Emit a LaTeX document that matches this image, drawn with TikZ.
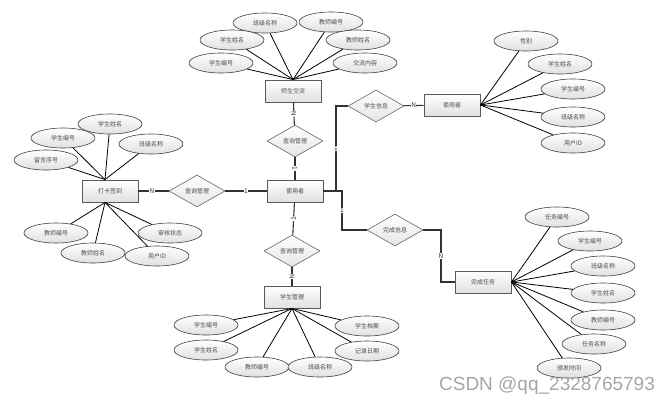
\documentclass[tikz,border=0pt]{standalone}
\usepackage{fontspec}
\setmainfont{Noto Sans CJK SC}
\newfontfamily\wmfont{Liberation Sans}
\usetikzlibrary{shapes.geometric}

\begin{document}
\begin{tikzpicture}[x=1pt, y=-1pt, font=\fontsize{6}{7}\selectfont, line width=0.8pt,
  ent/.style = {draw=black!65, line width=0.9pt, rectangle, minimum width=56pt, minimum height=22pt, top color=white, bottom color=black!12, text=black!70},
  rel/.style = {draw=black!60, line width=0.6pt, diamond, minimum width=56pt, minimum height=32pt, inner sep=0pt, top color=white, bottom color=black!10, text=black!70},
  attr/.style = {draw=black!75, line width=0.6pt, ellipse, minimum width=64pt, minimum height=20pt, inner sep=0pt, top color=white, bottom color=black!12, text=black!70},
  lab/.style = {fill=white, inner sep=0.5pt, text=black!80, font=\fontsize{6.5}{7}\selectfont},
  link/.style = {draw=black!80, line width=1.1pt}]
\useasboundingbox (0,0) rectangle (668,405);

% entities
\node[ent] (1) at (293,91) {师生交流};
\node[ent] (2) at (295,191) {使用者};
\node[ent] (3) at (110,191) {打卡签到};
\node[ent] (4) at (292,297) {学生管理};
\node[ent] (5) at (452,105) {使用者};
\node[ent] (6) at (483,282) {完成任务};

% relations
\node[rel] (7) at (295,141) {查询管理};
\node[rel] (8) at (197,191) {查询管理};
\node[rel] (9) at (292,251) {查询管理};
\node[rel] (10) at (376,106) {学生信息};
\node[rel] (11) at (395,230) {完成信息};

\coordinate (j1) at (336,191);
\coordinate (j2) at (342,191);
\coordinate (j3) at (441,282);

\draw[link] (1) -- node[lab, sloped] {N} (7);
\draw[link] (7) -- node[lab, sloped] {1} (2);
\draw[link] (3) -- node[lab, pos=.45] {N} (8);
\draw[link] (8) -- node[lab] {1} (2);
\draw[link] (2) -- node[lab, sloped] {1} (9);
\draw[link] (9) -- node[lab, sloped] {N} (4);
\draw[link] (2.east) -- (j1) |- node[lab, pos=.25] {1} (10.west);
\draw[link] (10) -- node[lab] {N} (5);
\draw[link] (2.east) -- (j2) |- node[lab, pos=.25] {1} (11.west);
\draw[link] (11.east) -| node[lab, pos=.75] {N} (j3) -- (6.west);

% attributes of 师生交流
\node[attr] (12) at (265,23) {班级名称};
\node[attr] (13) at (331,22) {教师编号};
\node[attr] (14) at (232,40) {学生姓名};
\node[attr] (15) at (358,40) {教师姓名};
\node[attr] (16) at (221,63) {学生编号};
\node[attr] (17) at (365,63) {交流内容};
\draw (12) -- (1.north);
\draw (13) -- (1.north);
\draw (14) -- (1.north);
\draw (15) -- (1.north);
\draw (16) -- (1.north);
\draw (17) -- (1.north);

% attributes of 使用者 (right)
\node[attr] (18) at (526,41) {性别};
\node[attr] (19) at (560,64) {学生姓名};
\node[attr] (20) at (573,89) {学生编号};
\node[attr] (21) at (573,117) {班级名称};
\node[attr] (22) at (573,143) {用户ID};
\draw (18) -- (5.east);
\draw (19) -- (5.east);
\draw (20) -- (5.east);
\draw (21) -- (5.east);
\draw (22) -- (5.east);

% attributes of 打卡签到
\node[attr] (23) at (110,124) {学生姓名};
\node[attr] (24) at (63,138) {学生编号};
\node[attr] (25) at (151,144) {班级名称};
\node[attr] (26) at (46,160) {留言序号};
\node[attr] (27) at (56,233) {教师编号};
\node[attr] (28) at (93,253) {教师姓名};
\node[attr] (29) at (170,233) {审核状态};
\node[attr] (30) at (157,256) {用户ID};
\draw (23) -- ([xshift=-5pt]3.north);
\draw (24) -- ([xshift=-5pt]3.north);
\draw (25) -- ([xshift=-5pt]3.north);
\draw (26) -- ([xshift=-5pt]3.north);
\draw (27) -- ([xshift=-5pt]3.south);
\draw (28) -- ([xshift=-5pt]3.south);
\draw (29) -- ([xshift=-5pt]3.south);
\draw (30) -- ([xshift=-5pt]3.south);

% attributes of 学生管理
\node[attr] (31) at (206,325) {学生编号};
\node[attr] (32) at (206,350) {学生姓名};
\node[attr] (33) at (257,367) {教师编号};
\node[attr] (34) at (320,367) {班级名称};
\node[attr] (35) at (367,326) {学生档案};
\node[attr] (36) at (367,351) {记录日期};
\draw (31) -- (4.south);
\draw (32) -- (4.south);
\draw (33) -- (4.south);
\draw (34) -- (4.south);
\draw (35) -- (4.south);
\draw (36) -- (4.south);

% attributes of 完成任务
\node[attr] (37) at (557,217) {任务编号};
\node[attr] (38) at (590,241) {学生编号};
\node[attr] (39) at (603,266) {班级名称};
\node[attr] (40) at (603,293) {学生姓名};
\node[attr] (41) at (603,320) {教师编号};
\node[attr] (42) at (594,344) {任务名称};
\node[attr] (43) at (569,368) {颁发时间};
\draw (37) -- (6.east);
\draw (38) -- (6.east);
\draw (39) -- (6.east);
\draw (40) -- (6.east);
\draw (41) -- (6.east);
\draw (42) -- (6.east);
\draw (43) -- (6.east);

\node[text=black!35, font=\wmfont\fontsize{19}{19}\selectfont] (wm) at (547,386) {CSDN @qq\_2328765793};
\end{tikzpicture}
\end{document}
